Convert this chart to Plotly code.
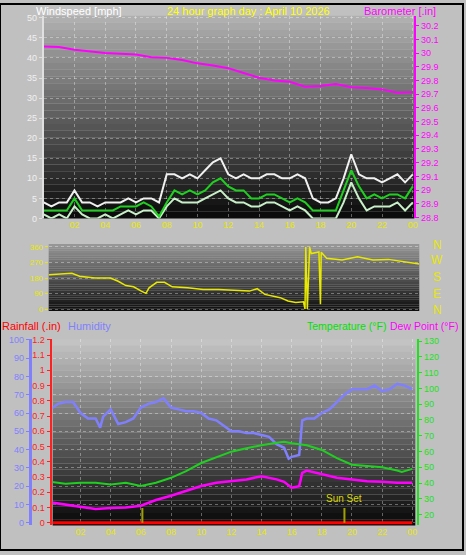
import plotly.graph_objects as go

W, H = 466, 555
def px(x): return x / W
def py(y): return 1 - y / H

hours_half = [i * 0.5 for i in range(49)]
hours = list(range(25))

wind_avg = [2, 2, 2, 2, 5, 2, 2, 2, 2, 2, 3, 3, 3, 4, 3, 0.5, 4, 7, 6, 7, 6, 7, 9, 10, 8, 7, 7, 5, 5, 6, 6, 5, 4, 5, 4, 2, 2, 2, 2, 7, 12, 8, 5, 6, 5, 6, 6, 5, 8]
wind_gust = [4, 3, 4, 4, 7, 4, 4, 3, 4, 4, 4, 5, 4, 5, 5, 4, 11, 11, 10, 11, 10, 12, 14, 15, 11, 10, 11, 10, 10, 11, 11, 10, 10, 11, 10, 5, 4, 4, 5, 10, 16, 11, 10, 10, 9, 10, 11, 9, 11]
wind_low = [1, 0, 1, 0, 3, 1, 0, 0, 1, 0, 1, 2, 1, 2, 2, 0, 3, 5, 4, 4, 4, 5, 6, 7, 5, 4, 4, 3, 3, 4, 4, 3, 2, 3, 2, 0, 0, 0, 0, 4, 9, 5, 2, 3, 3, 3, 4, 2, 4]
baro = [30.048, 30.045, 30.024, 30.01, 30.0, 29.995, 29.99, 29.97, 29.965, 29.95, 29.925, 29.91, 29.89, 29.855, 29.82, 29.80, 29.79, 29.755, 29.76, 29.775, 29.75, 29.745, 29.735, 29.71, 29.715]

dir_h = [0, 1.5, 2, 3, 4, 4.5, 5, 5.5, 6, 6.3, 6.5, 7, 7.5, 8, 9, 10, 11, 12, 13, 13.5, 14, 15, 15.5, 16, 16.5, 16.6, 16.65, 16.75, 16.9, 17, 17.5, 17.6, 17.65, 18, 19, 20, 21, 22, 23, 24]
dir_v = [199, 208, 190, 180, 180, 161, 136, 129, 104, 91, 123, 155, 155, 129, 123, 114, 114, 108, 104, 118, 85, 66, 47, 38, 42, 0, 360, 0, 360, 322, 331, 28, 330, 294, 284, 303, 284, 288, 275, 261]

hum_h = [0, 0.5, 1, 1.5, 2, 2.5, 3, 3.3, 3.5, 4, 4.5, 5, 5.5, 6, 6.5, 7, 7.5, 8, 8.5, 9, 9.5, 10, 10.5, 11, 11.5, 12, 12.5, 13, 13.5, 14, 14.5, 15, 15.5, 15.8, 16, 16.5, 16.7, 17, 17.5, 18, 18.5, 19, 19.5, 20, 20.5, 21, 21.5, 22, 22.5, 23, 23.5, 24]
humidity = [62, 65, 66, 66, 60, 57, 57, 52, 58, 62, 54, 55, 57, 63, 65, 66, 68, 63, 62, 61, 61, 60, 57, 56, 53, 50, 50, 49, 49, 48, 47, 43, 41, 35, 36, 37, 56, 57, 57, 60, 62, 66, 70, 73, 73, 73, 75, 72, 73, 76, 75, 73]
temp_h = [0, 1, 2, 3, 4, 5, 6, 7, 8, 9, 10, 11, 12, 13, 14, 15, 15.5, 16, 17, 18, 19, 20, 21, 22, 23, 23.3, 24]
temperature = [40.8, 39.6, 40.2, 40.2, 39.1, 40.2, 38.1, 40.2, 43.3, 47.5, 52.7, 56.4, 59.9, 62, 64, 65.5, 66.2, 65.2, 64, 61, 55.8, 51.6, 50.6, 50, 47.9, 47, 49]
dew_h = [0, 1, 2, 3, 4, 5, 6, 7, 8, 9, 10, 11, 12, 13, 14, 15, 15.5, 16, 16.5, 16.7, 17, 18, 19, 20, 21, 22, 23, 24]
dewpoint = [27.7, 26.3, 25.2, 23.5, 24.2, 24.5, 25.6, 29.2, 31.9, 35, 38.1, 40.2, 41.2, 42.3, 44.3, 42.3, 40.8, 37, 38, 46.4, 47.9, 45.4, 43.3, 42.3, 41.2, 40.8, 40.2, 40.2]
rainfall = [0] * 25
sun_events = [6.1, 19.5]
tick_hours = [2, 4, 6, 8, 10, 12, 14, 16, 18, 20, 22, 24]
tick_text = ["02", "04", "06", "08", "10", "12", "14", "16", "18", "20", "22", "00"]

FONT = "Liberation Sans"
fig = go.Figure()

fig.add_trace(go.Scatter(x=hours_half, y=wind_gust, line=dict(color="#f0f0f0", width=2), xaxis="x", yaxis="y"))
fig.add_trace(go.Scatter(x=hours_half, y=wind_low, line=dict(color="#c8f0c8", width=2), xaxis="x", yaxis="y"))
fig.add_trace(go.Scatter(x=hours_half, y=wind_avg, line=dict(color="#20d020", width=2), xaxis="x", yaxis="y"))
fig.add_trace(go.Scatter(x=hours, y=baro, line=dict(color="#ff00ff", width=2), xaxis="x", yaxis="y2"))
fig.add_trace(go.Scatter(x=dir_h, y=dir_v, line=dict(color="#e8e800", width=1.5), xaxis="x2", yaxis="y3"))
fig.add_trace(go.Scatter(x=hours, y=rainfall, line=dict(color="#ff0000", width=3), xaxis="x3", yaxis="y5"))
fig.add_trace(go.Scatter(x=hum_h, y=humidity, line=dict(color="#8080ff", width=2.5), xaxis="x3", yaxis="y4"))
fig.add_trace(go.Scatter(x=temp_h, y=temperature, line=dict(color="#20d020", width=2), xaxis="x3", yaxis="y6"))
fig.add_trace(go.Scatter(x=dew_h, y=dewpoint, line=dict(color="#ff00ff", width=2.5), xaxis="x3", yaxis="y6"))

grid = dict(showgrid=True, gridcolor="rgba(255,255,255,0.35)", griddash="dot", gridwidth=1, zeroline=False)
tf = lambda c: dict(family=FONT, size=9, color=c)

D1x = [px(44), px(417)]; D1y = [py(218), py(12)]
D2x = [px(49), px(422)]; D2y = [py(312), py(244)]
D3x = [px(53), px(418)]; D3y = [py(530), py(341)]

fig.update_layout(
    width=W, height=H, margin=dict(l=0, r=0, t=0, b=0), showlegend=False,
    paper_bgcolor="#c0c0c0", plot_bgcolor="rgba(0,0,0,0)",
    xaxis=dict(domain=D1x, anchor="y", range=[0, 24.1], tickvals=tick_hours, ticktext=tick_text, tickfont=tf("#e8e800"), ticks="", **grid),
    yaxis=dict(domain=D1y, anchor="x", range=[0, 50.5], dtick=5, tickfont=tf("#f0f0f0"), showline=True, linecolor="#e0e0e0", linewidth=2, ticks="outside", ticklen=3, tickcolor="#e0e0e0", **grid),
    yaxis2=dict(overlaying="y", side="right", anchor="x", range=[28.793, 30.272], dtick=0.1, tickfont=tf("#ff00ff"), showline=True, linecolor="#ff00ff", linewidth=2, ticks="outside", ticklen=3, tickcolor="#ff00ff", showgrid=False, zeroline=False),
    xaxis2=dict(domain=D2x, anchor="y3", range=[0, 24], showticklabels=False, ticks="", showgrid=False, zeroline=False),
    yaxis3=dict(domain=D2y, anchor="x2", range=[-11, 377], tickvals=[0, 90, 180, 270, 360], tickfont=dict(family=FONT, size=8, color="#e8e800"), ticks="outside", ticklen=3, tickcolor="#e8e800", **grid),
    xaxis3=dict(domain=D3x, anchor="y4", range=[0.15, 24.2], tickvals=tick_hours, ticktext=tick_text, tickfont=tf("#e8e800"), ticks="", **grid),
    yaxis4=dict(range=[-1.45, 100.2], dtick=10, anchor="free", position=px(30), side="left", tickfont=tf("#8080ff"), showline=True, linecolor="#8080ff", linewidth=3, ticks="outside", ticklen=3, tickcolor="#8080ff", domain=D3y, **grid),
    yaxis5=dict(overlaying="y4", range=[-0.0174, 1.2024], dtick=0.1, anchor="free", position=px(51), side="left", tickfont=tf("#ff2020"), showline=True, linecolor="#ff2020", linewidth=2, ticks="outside", ticklen=3, tickcolor="#ff2020", showgrid=False, zeroline=False),
    yaxis6=dict(overlaying="y4", range=[13.1, 131.1], tickvals=list(range(20, 131, 10)), anchor="free", position=px(421), side="right", tickfont=tf("#20e020"), showline=True, linecolor="#20e020", linewidth=2, ticks="outside", ticklen=3, tickcolor="#20e020", showgrid=False, zeroline=False),
)

def gradient(x0, x1, y0, y1, top, bottom, n=30):
    for i in range(n):
        t = i / (n - 1)
        c = int(top + (bottom - top) * t)
        ya = y1 - (y1 - y0) * i / n
        yb = y1 - (y1 - y0) * (i + 1) / n
        fig.add_shape(type="rect", xref="paper", yref="paper", x0=x0, x1=x1, y0=yb, y1=ya,
                      fillcolor=f"rgb({c},{c},{c})", line=dict(width=0), layer="below")

gradient(D1x[0], D1x[1], D1y[0], D1y[1], 175, 12)
gradient(D2x[0], D2x[1], D2y[0], D2y[1], 150, 15)
gradient(D3x[0], D3x[1], D3y[0], D3y[1], 195, 10)

for h in sun_events:
    fig.add_shape(type="line", xref="x3", yref="y4", x0=h, x1=h, y0=0, y1=8, line=dict(color="#a0a000", width=2))
fig.add_annotation(x=sun_events[1], y=9, xref="x3", yref="y4", text="Sun Set", showarrow=False, yanchor="bottom", font=dict(family=FONT, size=10, color="#d8d800"))

def ann(x, y, text, color, anchor="left", size=11):
    fig.add_annotation(x=px(x), y=py(y), xref="paper", yref="paper", text=text, showarrow=False, xanchor=anchor, yanchor="middle", font=dict(family=FONT, size=size, color=color))

ann(34, 7, "Windspeed [mph]", "#ffffff")
ann(250, 7, "24 hour graph day : April 10 2026", "#ffff00", "center")
ann(441, 7, "Barometer [.in]", "#ff00ff", "right")
for lab, y in zip(["N", "W", "S", "E", "N"], [245, 260, 278, 295, 311]):
    ann(440, y, lab, "#e8e800", "center", 12)
ann(0, 327, "Rainfall (.in)", "#ff0000")
ann(66, 327, "Humidity", "#8080ff")
ann(391, 327, "Temperature (°F)", "#00e000", "right", 10.5)
ann(463, 327, "Dew Point (°F)", "#ff00ff", "right", 10.5)

fig.add_shape(type="rect", xref="paper", yref="paper", x0=0, x1=1, y0=0, y1=1, line=dict(color="#000000", width=2))

fig.write_html("out.html", config={"displayModeBar": False},
               post_script="document.body.style.margin='0';document.body.style.overflow='hidden';")
